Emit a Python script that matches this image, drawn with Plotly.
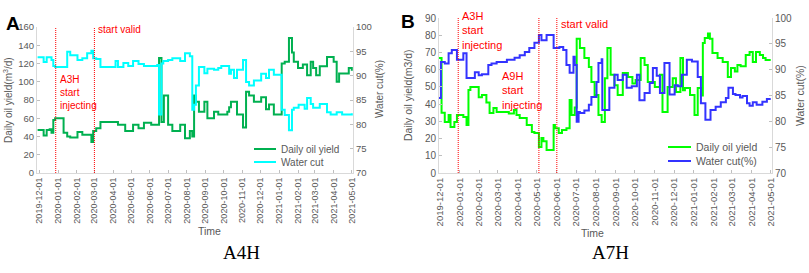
import datetime as dt
import plotly.graph_objects as go

# ---------------- data ----------------
month_ticks = ['2019-12-01', '2020-01-01', '2020-02-01', '2020-03-01', '2020-04-01',
               '2020-05-01', '2020-06-01', '2020-07-01', '2020-08-01', '2020-09-01',
               '2020-10-01', '2020-11-01', '2020-12-01', '2021-01-01', '2021-02-01',
               '2021-03-01', '2021-04-01', '2021-05-01']

# Panel A (A4H): days after 2019-12-01, daily oil yield (m3/d), water cut (%)
a_days = [-3, 7, 12, 17, 20, 23, 26, 40, 46, 51, 63, 71, 79, 86, 89, 94, 101, 126, 130,
          139, 142, 147, 155, 164, 173, 185, 195, 198, 202, 205, 206, 213, 220, 233, 241,
          249, 253, 256, 259, 264, 273, 278, 286, 289, 296, 301, 311, 314, 317, 322, 327,
          337, 342, 347, 355, 367, 375, 380, 388, 401, 406, 413, 418, 421, 428, 429, 436,
          439, 443, 449, 453, 458, 464, 476, 482, 487, 492, 496, 501, 512, 517]
a_oil = [47, 41, 47, 48, 44, 58, 60, 44, 40, 39, 45, 42, 42, 34, 46, 49, 56, 56, 53,
         53, 46, 46, 53, 49, 55, 53, 53, 126, 56, 56, 85, 53, 46, 53, 38,
         46, 40, 85, 78, 67, 78, 60, 60, 67, 64, 64, 67, 72, 78, 78, 64,
         50, 89, 85, 78, 83, 70, 75, 64, 120, 122, 148, 132, 122, 115, 115, 119,
         119, 107, 122, 115, 107, 117, 127, 127, 122, 100, 109, 109, 115, 112]
a_wc = [93.8, 92.8, 93.8, 93.8, 93.2, 92.0, 91.8, 91.8, 94.9, 94.2, 93.2, 93.6, 94.6, 95.1,
        93.6, 93.4, 91.8, 93.0, 91.8, 92.6, 92.6, 92.0, 93.0, 92.4, 92.0, 92.0, 92.2, 82.0,
        92.5, 93.0, 93.0, 93.2, 93.6, 93.0, 94.6, 94.0, 83.0, 84.0, 88.0, 91.8, 90.5, 91.4,
        91.4, 91.2, 91.6, 92.0, 92.0, 90.4, 91.2, 89.5, 91.2, 93.2, 88.7, 88.0, 89.0, 90.4,
        89.5, 91.2, 90.2, 83.0, 81.9, 78.8, 83.0, 83.4, 83.4, 84.0, 84.0, 83.2, 85.4, 84.2,
        83.4, 83.4, 84.2, 82.5, 82.0, 82.0, 82.5, 82.5, 82.0, 82.0, 82.3]

# Panel B (A7H)
b_oil_days = [-2, 3, 8, 14, 17, 23, 27, 37, 42, 45, 48, 61, 66, 73, 78, 84, 89, 108, 116,
              120, 125, 136, 144, 148, 155, 159, 162, 167, 178, 180, 186, 191, 198, 203,
              206, 211, 214, 219, 226, 233, 237, 242, 248, 253, 258, 262, 267, 273, 278,
              286, 294, 301, 306, 314, 320, 325, 336, 344, 348, 356, 364, 369, 376, 380,
              383, 391, 398, 403, 408, 411, 414, 419, 422, 426, 434, 442, 450, 455, 461,
              465, 470, 478, 484, 489, 494, 500, 505, 509, 517]
b_oil = [66.8, 35, 29.6, 33.7, 26.7, 29.6, 33.7, 32.5, 27.9, 48.2, 50, 44, 45.3, 41, 34.8,
         37.7, 35.4, 34.5, 36.6, 33.7, 32, 27.9, 23.8, 23.2, 15.1, 20.3, 18.5, 13.4, 27.9,
         26, 23.2, 25, 26, 42.4, 33.7, 38, 78, 72.6, 66.8, 61.5, 52.8, 45.3, 33.7, 29.6,
         55, 72.6, 57, 51, 45.3, 58, 55.7, 52, 54, 66.8, 62.7, 52.8, 50, 57, 35.4, 50, 55,
         47, 66.8, 48, 49.4, 45.3, 33.7, 49.4, 45, 75.5, 78.4, 81, 78, 69.7, 66.8, 64.5,
         55.7, 61, 59, 62.7, 62, 68.5, 70.3, 64.5, 70.3, 68.5, 66.8, 65.6, 65.6]
b_wc_days = [-2, 2, 8, 14, 19, 27, 37, 42, 55, 61, 66, 76, 81, 89, 105, 117, 125, 133, 140,
             148, 155, 159, 167, 178, 187, 193, 198, 203, 209, 211, 214, 217, 219, 226, 233,
             237, 245, 248, 253, 254, 265, 273, 278, 286, 292, 300, 308, 312, 320, 328, 333,
             339, 344, 351, 359, 367, 372, 378, 386, 394, 403, 408, 415, 423, 431, 439, 447,
             451, 458, 462, 469, 473, 480, 484, 489, 495, 504, 511, 517]
b_wc = [84.5, 91.5, 91.2, 93.2, 93.8, 91.9, 93.2, 88.4, 89.5, 88.9, 89.1, 90.9, 91.2, 91.5,
        91.9, 92.3, 92.8, 93.4, 94.2, 95.2, 96.7, 95.7, 96.7, 94.2, 94.4, 93.8, 90.9, 89.4,
        92.5, 90.9, 79.9, 81.8, 81.6, 82.1, 83.2, 84.7, 87.6, 91.3, 92.0, 82.2, 86.5, 89.0,
        88.0, 89.0, 86.5, 86.8, 89.0, 84.1, 85.5, 87.4, 90.3, 88.8, 85.5, 91.3, 85.2, 87.0,
        86.8, 89.0, 91.9, 91.6, 88.6, 83.5, 80.3, 82.2, 82.8, 83.7, 84.5, 86.5, 85.3, 85.1,
        84.6, 84.9, 83.5, 83.0, 83.7, 83.2, 83.8, 84.3, 84.3]

events_a = ['2019-12-28', '2020-03-01']
events_b = ['2019-12-30', '2020-05-04', '2020-06-01']
a9h_label_date = '2020-03-01'

start = dt.date(2019, 12, 1)
def to_dates(days):
    return [start + dt.timedelta(days=d) for d in days]

# ---------------- figure ----------------
W, H = 809, 273
def px(x):
    return x / W
def py(y):
    return 1 - y / H

GRAY = '#595959'
AXC = '#d9d9d9'
FONT = 'Liberation Sans'

fig = go.Figure()
fig.add_trace(go.Scatter(x=to_dates(a_days), y=a_oil, name='Daily oil yield', mode='lines',
                         line=dict(color='#00B050', width=2, shape='hv'), xaxis='x', yaxis='y'))
fig.add_trace(go.Scatter(x=to_dates(a_days), y=a_wc, name='Water cut', mode='lines',
                         line=dict(color='#00FFFF', width=2, shape='hv'), xaxis='x', yaxis='y2'))
fig.add_trace(go.Scatter(x=to_dates(b_oil_days), y=b_oil, name='Daily oil yield', mode='lines',
                         line=dict(color='#00FF00', width=2, shape='hv'), xaxis='x2', yaxis='y3'))
fig.add_trace(go.Scatter(x=to_dates(b_wc_days), y=b_wc, name='Water cut(%)', mode='lines',
                         line=dict(color='#3333FF', width=2, shape='hv'), xaxis='x2', yaxis='y4'))

def xax(domain, anchor, rng, fs):
    return dict(domain=domain, anchor=anchor, type='date', range=rng, automargin=False,
                tickvals=month_ticks, tickformat='%Y-%m-%d', tickangle=-90,
                showline=True, linecolor=AXC, linewidth=1, ticks='inside', ticklen=3,
                tickcolor='#bfbfbf', tickfont=dict(size=fs, color=GRAY, family=FONT),
                showgrid=False, zeroline=False)

def yax(domain, anchor, rng, dtick, fs, side='left', overlaying=None):
    d = dict(domain=domain, anchor=anchor, range=rng, dtick=dtick, tick0=rng[0], side=side,
             automargin=False,
             showline=True, linecolor=AXC, linewidth=1, ticks='inside', ticklen=3,
             tickcolor='#bfbfbf', tickfont=dict(size=fs, color=GRAY, family=FONT),
             showgrid=False, zeroline=False)
    if overlaying:
        d['overlaying'] = overlaying
    return d

fig.update_layout(
    width=W, height=H, margin=dict(l=0, r=0, t=0, b=0, autoexpand=False),
    paper_bgcolor='white', plot_bgcolor='white', showlegend=False,
    font=dict(family=FONT, color=GRAY),
    xaxis=xax([px(37), px(353)], 'y', ['2019-11-27', '2021-05-03'], 9),
    yaxis=yax([py(173), py(27)], 'x', [0, 160], 20, 9.5),
    yaxis2=yax([py(173), py(27)], 'x', [70, 100], 5, 9.5, side='right', overlaying='y'),
    xaxis2=xax([px(439), px(772)], 'y3', ['2019-11-30', '2021-05-03'], 9.5),
    yaxis3=yax([py(173), py(18)], 'x2', [0, 90], 10, 10),
    yaxis4=yax([py(173), py(18)], 'x2', [70, 100], 5, 10, side='right', overlaying='y3'),
)

shapes = []
for d in events_a:
    shapes.append(dict(type='line', xref='x', yref='y domain', x0=d, x1=d, y0=0, y1=1,
                       line=dict(color='#FF0000', width=1, dash='1px,1px')))
for d in events_b:
    shapes.append(dict(type='line', xref='x2', yref='y3 domain', x0=d, x1=d, y0=0, y1=1,
                       line=dict(color='#FF0000', width=1, dash='1px,1px')))

# legends (drawn manually for compact spacing)
legend_a = [('Daily oil yield', '#00B050', 149), ('Water cut', '#00FFFF', 162)]
legend_b = [('Daily oil yield', '#00FF00', 147), ('Water cut(%)', '#3333FF', 161)]
ann = []
for (lbl, col, yy) in legend_a:
    shapes.append(dict(type='line', xref='paper', yref='paper', x0=px(254), x1=px(276),
                       y0=py(yy), y1=py(yy), line=dict(color=col, width=2)))
    ann.append(dict(text=lbl, xref='paper', yref='paper', x=px(279), y=py(yy), xanchor='left',
                    yanchor='middle', showarrow=False, font=dict(size=10, color=GRAY, family=FONT)))
for (lbl, col, yy) in legend_b:
    shapes.append(dict(type='line', xref='paper', yref='paper', x0=px(668), x1=px(691),
                       y0=py(yy), y1=py(yy), line=dict(color=col, width=2)))
    ann.append(dict(text=lbl, xref='paper', yref='paper', x=px(694), y=py(yy), xanchor='left',
                    yanchor='middle', showarrow=False, font=dict(size=10.5, color=GRAY, family=FONT)))

RED = '#FF0000'
def red(text, xref, x, yref, y, fs=10):
    return dict(text=text, xref=xref, x=x, yref=yref, y=y, xanchor='left', yanchor='middle',
                xshift=2, showarrow=False, align='left',
                font=dict(size=fs, color=RED, family=FONT))

ann += [
    red('A3H<br>start<br>injecting', 'x', events_a[0], 'y domain', (173 - 92) / 146),
    red('start valid', 'x', events_a[1], 'y domain', (173 - 30) / 146),
    red('A3H<br>start<br>injecting', 'x2', events_b[0], 'y3 domain', (173 - 31) / 155, 11),
    red('A9H<br>start<br>injecting', 'x2', a9h_label_date, 'y3 domain', (173 - 90) / 155, 11),
    red('start valid', 'x2', events_b[2], 'y3 domain', (173 - 24) / 155, 11),
]

def vt(text, x, y, fs):
    return dict(text=text, xref='paper', yref='paper', x=px(x), y=py(y), xanchor='center',
                yanchor='middle', textangle=-90, showarrow=False,
                font=dict(size=fs, color=GRAY, family=FONT))

ann += [
    vt('Daily oil yield(m<sup>3</sup>/d)', 8, 100, 10),
    vt('Water cut(%)', 380, 89, 10),
    vt('Daily oil yield(m3/d)', 408, 95, 10.5),
    vt('Water cut(%)', 800, 96, 10.5),
    dict(text='Time', xref='paper', yref='paper', x=px(196), y=py(239), showarrow=False,
         font=dict(size=10.5, color=GRAY, family=FONT)),
    dict(text='Time', xref='paper', yref='paper', x=px(606), y=py(241), showarrow=False,
         font=dict(size=10.5, color=GRAY, family=FONT)),
    dict(text='A4H', xref='paper', yref='paper', x=px(221), y=py(265), showarrow=False,
         font=dict(size=19, color='black', family='Liberation Serif')),
    dict(text='A7H', xref='paper', yref='paper', x=px(631), y=py(265), showarrow=False,
         font=dict(size=19, color='black', family='Liberation Serif')),
    dict(text='<b>A</b>', xref='paper', yref='paper', x=px(4), y=py(11), xanchor='left',
         showarrow=False, font=dict(size=19, color='black', family='Liberation Sans')),
    dict(text='<b>B</b>', xref='paper', yref='paper', x=px(399), y=py(9), xanchor='left',
         showarrow=False, font=dict(size=19, color='black', family='Liberation Sans')),
]

fig.update_layout(shapes=shapes, annotations=ann)
fig.write_html('out.html', config={'displayModeBar': False},
               post_script="document.body.style.margin='0';document.body.style.padding='0';")
